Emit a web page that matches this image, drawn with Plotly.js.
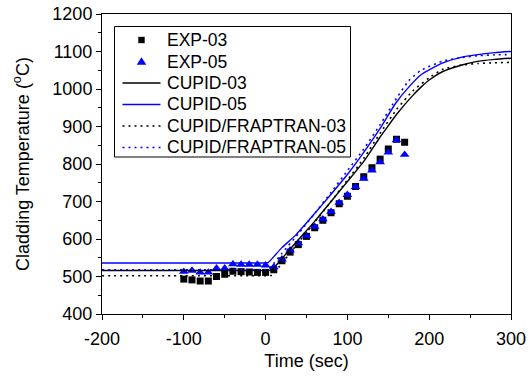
<!DOCTYPE html>
<html>
<head>
<meta charset="utf-8">
<script src="https://cdn.plot.ly/plotly-3.0.1.min.js"></script>
<style>
  html, body { margin: 0; padding: 0; background: #fff; }
  #chart { width: 532px; height: 376px; }
</style>
</head>
<body>
<div id="chart"></div>
<script>
// Experimental data
const expTime = [-100, -90, -80, -70, -60, -50, -40, -30, -20, -10, 0, 10, 20, 30, 40, 50, 60, 70, 80, 90, 100, 110, 120, 130, 140, 150, 160, 170];
const exp03 = [493, 491, 488, 488, 500, 506, 514, 513, 512, 511, 511, 518, 542, 565, 585, 607, 630, 650, 670, 694, 714, 740, 766, 790, 813, 840, 866, 858];
const exp05 = [513, 516, 511, 511, 522, 522, 533, 532, 532, 532, 530, 525, 546, 570, 589, 609, 633, 653, 673, 697, 718, 739, 761, 783, 805, 831, 864, 825];

// CUPID-03 (black solid)
const cupid03Time = [-200, -100, -20, 0, 5, 10, 20, 40, 60, 80, 100, 120, 140, 147, 160, 180, 190, 200, 216, 240, 257, 280, 300];
const cupid03 = [516, 516, 516, 516, 516, 523, 548, 598, 647, 700, 753, 807, 872, 893, 932, 983, 1005, 1024, 1046, 1064, 1073, 1079, 1082];

// CUPID-05 (blue solid)
const cupid05Time = [-200, -100, -20, -2, 3, 10, 20, 37, 60, 78, 100, 118, 140, 159, 175, 190, 216, 240, 257, 280, 300];
const cupid05 = [536, 536, 536, 536, 537, 553, 577, 611, 668, 714, 772, 825, 895, 962, 1005, 1038, 1069, 1085, 1091, 1097, 1100];

// CUPID/FRAPTRAN-03 (black dotted)
const frap03Time = [-200, -100, -20, 2, 7, 10, 20, 40, 60, 80, 100, 120, 140, 160, 180, 200, 216, 240, 260, 280, 300];
const frap03 = [502, 502, 502, 502, 503, 508, 535, 590, 645, 700, 757, 815, 882, 945, 995, 1030, 1052, 1064, 1068, 1070, 1071];

// CUPID/FRAPTRAN-05 (blue dotted)
const frap05Time = [-200, -100, -20, -2, 3, 10, 20, 40, 60, 80, 100, 120, 140, 160, 175, 190, 216, 240, 260, 280, 300];
const frap05 = [518, 518, 518, 518, 519, 535, 562, 614, 668, 724, 782, 840, 905, 975, 1022, 1050, 1074, 1084, 1089, 1091, 1092];

// Tick labels
const xTickVals = [-200, -100, 0, 100, 200, 300];
const xTickText = ['-200', '-100', '0', '100', '200', '300'];
const yTickVals = [400, 500, 600, 700, 800, 900, 1000, 1100, 1200];
const yTickText = ['400', '500', '600', '700', '800', '900', '1000', '1100', '1200'];

// Legend labels
const seriesNames = ['EXP-03', 'EXP-05', 'CUPID-03', 'CUPID-05', 'CUPID/FRAPTRAN-03', 'CUPID/FRAPTRAN-05'];

const FONT = 'Liberation Sans, Arial, sans-serif';
const TICK_SIZE = 18;
const LEG_SIZE = 17.5;

const BLACK = '#000000';
const BLUE = '#0000ff';
const DOT = '2px,4px';

const traces = [
  { x: expTime, y: exp03, name: seriesNames[0], type: 'scatter', mode: 'markers',
    marker: { symbol: 'square', size: 7, color: BLACK } },
  { x: expTime, y: exp05, name: seriesNames[1], type: 'scatter', mode: 'markers',
    marker: { symbol: 'triangle-up', size: 8.5, color: BLUE } },
  { x: cupid03Time, y: cupid03, name: seriesNames[2], type: 'scatter', mode: 'lines',
    line: { color: BLACK, width: 1.4, shape: 'spline', smoothing: 0.5 } },
  { x: cupid05Time, y: cupid05, name: seriesNames[3], type: 'scatter', mode: 'lines',
    line: { color: BLUE, width: 1.4, shape: 'spline', smoothing: 0.5 } },
  { x: frap03Time, y: frap03, name: seriesNames[4], type: 'scatter', mode: 'lines',
    line: { color: BLACK, width: 1.6, dash: DOT, shape: 'spline', smoothing: 0.5 } },
  { x: frap05Time, y: frap05, name: seriesNames[5], type: 'scatter', mode: 'lines',
    line: { color: BLUE, width: 1.6, dash: DOT, shape: 'spline', smoothing: 0.5 } }
];

// Plot area geometry (pixels)
const M = { l: 102, r: 21, t: 14, b: 62 };
const W = 532, H = 376;
const PW = W - M.l - M.r, PH = H - M.t - M.b;
const px2x = px => (px - M.l) / PW;
const py2y = py => (H - M.b - py) / PH;

// Manual legend (box, samples, labels)
const legLeft = 114.5, legRight = 350.5, legTop = 26.5, legBottom = 157;
const rowY = [40, 61.5, 83, 104.5, 126, 147.5];
const sampleX0 = 122.5, sampleX1 = 160.5, sampleMid = 141.5, textX = 165.5;

const shapes = [
  { type: 'rect', xref: 'paper', yref: 'paper', layer: 'above',
    x0: px2x(legLeft), x1: px2x(legRight), y0: py2y(legBottom), y1: py2y(legTop),
    line: { color: BLACK, width: 1 }, fillcolor: '#ffffff' },
  // square sample
  { type: 'rect', xref: 'paper', yref: 'paper', layer: 'above',
    x0: px2x(sampleMid - 3.2), x1: px2x(sampleMid + 3.2), y0: py2y(rowY[0] + 3.2), y1: py2y(rowY[0] - 3.2),
    line: { width: 0 }, fillcolor: BLACK },
  // triangle sample
  { type: 'path', xref: 'paper', yref: 'paper', layer: 'above',
    path: 'M' + px2x(sampleMid - 4.8) + ',' + py2y(rowY[1] + 3.2) +
          ' L' + px2x(sampleMid + 4.8) + ',' + py2y(rowY[1] + 3.2) +
          ' L' + px2x(sampleMid) + ',' + py2y(rowY[1] - 4.3) + ' Z',
    line: { width: 0 }, fillcolor: BLUE }
];
const lineStyles = [
  null, null,
  { color: BLACK, width: 1.4 },
  { color: BLUE, width: 1.4 },
  { color: BLACK, width: 1.6, dash: DOT },
  { color: BLUE, width: 1.6, dash: DOT }
];
for (let i = 2; i < 6; i++) {
  shapes.push({ type: 'line', xref: 'paper', yref: 'paper', layer: 'above',
    x0: px2x(sampleX0), x1: px2x(sampleX1), y0: py2y(rowY[i]), y1: py2y(rowY[i]),
    line: lineStyles[i] });
}
const annotations = seriesNames.map((name, i) => ({
  text: name, xref: 'paper', yref: 'paper',
  x: px2x(textX), y: py2y(rowY[i]), xanchor: 'left', yanchor: 'middle',
  showarrow: false, borderpad: 0,
  font: { family: FONT, size: LEG_SIZE, color: BLACK }
}));

const axisCommon = {
  showgrid: false, zeroline: false,
  showline: true, mirror: true, linecolor: BLACK, linewidth: 1,
  ticks: 'outside', ticklen: 5, tickwidth: 1, tickcolor: BLACK,
  tickfont: { family: FONT, size: TICK_SIZE, color: BLACK }
};

const layout = {
  width: W, height: H,
  margin: M,
  paper_bgcolor: '#fff', plot_bgcolor: '#fff',
  font: { family: FONT, size: TICK_SIZE, color: BLACK },
  showlegend: false,
  xaxis: Object.assign({}, axisCommon, {
    range: [-200, 300], tickmode: 'array', tickvals: xTickVals, ticktext: xTickText,
    ticklabelstandoff: 3,
    minor: { dtick: 50, tick0: 0, ticks: 'outside', ticklen: 3, tickcolor: BLACK, showgrid: false },
    title: { text: 'Time (sec)', font: { family: FONT, size: TICK_SIZE, color: BLACK }, standoff: 6 }
  }),
  yaxis: Object.assign({}, axisCommon, {
    range: [400, 1200], tickmode: 'array', tickvals: yTickVals, ticktext: yTickText,
    minor: { dtick: 50, tick0: 0, ticks: 'outside', ticklen: 3, tickcolor: BLACK, showgrid: false },
    title: { text: 'Cladding Temperature (<sup>o</sup>C)', font: { family: FONT, size: TICK_SIZE, color: BLACK }, standoff: 18 }
  }),
  shapes: shapes,
  annotations: annotations
};

Plotly.newPlot('chart', traces, layout, { staticPlot: true, displayModeBar: false });
</script>
</body>
</html>
